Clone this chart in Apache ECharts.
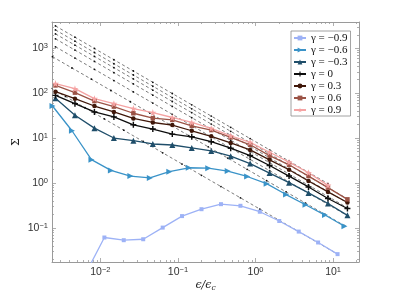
<!DOCTYPE html>
<html><head><meta charset="utf-8">
<script src="https://cdn.jsdelivr.net/npm/echarts@6/dist/echarts.min.js"></script>
<style>html,body{margin:0;padding:0;background:#fff}#c{width:397px;height:297px}</style>
</head><body><div id="c"></div>
<script>
// ---- data ----
const gammaNames = ['γ = −0.9','γ = −0.6','γ = −0.3','γ = 0','γ = 0.3','γ = 0.6','γ = 0.9'];
const xMain  = [0.002636,0.004699,0.008375,0.01493,0.02661,0.04743,0.08454,0.1507,0.2686,0.4788,0.8522,1.519,2.707,4.825,8.60,15.32];
const xNeg06 = [0.002412,0.0043,0.007663,0.01366,0.02435,0.0434,0.07735,0.1379,0.2458,0.4381,0.7798,1.390,2.477,4.415,7.869,14.02];
const xNeg09 = [0.006318,0.01126,0.02001,0.03565,0.06355,0.1129,0.2012,0.3587,0.6391,1.136,2.024,3.608,6.412,11.43];
const xNeg09Fit = [0.001989,0.003544,0.006318,0.01126,0.02001,0.03565,0.06355,0.1129,0.2012,0.3587,0.6391,1.136,2.024,3.608,6.412,11.43];

const sNeg09 = [0.009,0.0614,0.0535,0.0562,0.102,0.184,0.262,0.339,0.312,0.230,0.143,0.0832,0.0476,0.0262];
const sNeg06 = [51.9,14.6,3.32,1.91,1.43,1.30,1.79,2.19,2.15,1.85,1.40,0.97,0.555,0.329,0.194,0.109];
const sNeg03 = [76.8,32.4,16.7,10.05,8.76,7.41,7.04,6.04,5.19,3.96,2.71,1.67,1.02,0.604,0.351,0.191];
const s0     = [89.4,58.6,38.3,29.7,19.8,15.9,12.3,10.7,8.33,5.96,4.09,2.46,1.43,0.820,0.453,0.272];
const s03    = [108,75.6,51.9,38.3,27.4,22.3,19.5,14.6,11.0,7.80,5.46,3.29,1.98,1.11,0.636,0.369];
const s06    = [149,103,66.9,50.4,35.8,27.8,25.5,18.8,15.1,10.4,7.11,4.09,2.55,1.43,0.791,0.434];
const s09    = [164,126,75.6,58.6,45.5,37.1,28.8,22.3,16.4,11.3,8.07,4.86,2.92,1.70,0.889];

const fitNeg09 = [150.7,84.6,47.5,26.7,15.0,8.41,4.72,2.65,1.49,0.836,0.469,0.264,0.148,0.0831,0.0467,0.0262];
const fitNeg06 = [649,364,205,115,64.5,36.2,20.3,11.4,6.41,3.60,2.02,1.13,0.637,0.358,0.201,0.113];
const fitNeg03 = [1079,606,340,191,107,60.2,33.8,19.0,10.7,5.98,3.36,1.89,1.06,0.595,0.334,0.188];
const fit0     = [1622,911,511,287,161,90.5,50.8,28.5,16.0,9.00,5.05,2.84,1.59,0.894,0.502,0.282];
const fit03    = [2089,1173,659,370,208,117,65.4,36.8,20.6,11.6,6.51,3.65,2.05,1.15,0.647,0.363];
const fit06    = [2558,1436,806,453,254,143,80.1,45.0,25.3,14.2,7.97,4.47,2.51,1.41,0.792,0.445];
const fit09    = [3140,1763,990,556,312,175,98.4,55.2,31.0,17.4,9.78,5.49,3.08,1.73,0.972];

const xTickValues = [0.01,0.1,1,10];
const xTickExps   = ['−2','−1','0','1'];
const yTickValues = [0.1,1,10,100,1000];
const yTickExps   = ['−1','0','1','2','3'];

// ---- styling ----
const colors = ['#9db2f6','#3a93c8','#1f4e6a','#0d0d0d','#3f1709','#9b5346','#f5a3a3'];
const STAR = 'path://M50,0 L61,35 L98,35 L68,57 L79,91 L50,70 L21,91 L32,57 L2,35 L39,35 Z';
const PLUS = 'path://M38,0 H62 V38 H100 V62 H62 V100 H38 V62 H0 V38 H38 Z';
const symbols = ['rect','triangle','triangle',PLUS,'circle','rect',STAR];
const symRot  = [0,-90,0,0,0,0,0];
const symSize = [4,6,6,6,4.5,4.5,7];

const XMIN = 0.002377, XMAX = 21.6, YMIN = 0.0175, YMAX = 3845;

function pairs(xs, ys){ return ys.map((v,i)=>[xs[i], v]); }
function minorTicks(lo, hi){
  const out=[];
  for(let e=-4;e<=4;e++){ for(let m=2;m<=9;m++){ const v=m*Math.pow(10,e); if(v>lo&&v<hi) out.push(+v.toPrecision(3)); } }
  return out;
}
function expLabel(vals, exps){
  return function(v){
    let idx=-1; vals.forEach((t,i)=>{ if(Math.abs(t-v)/t<1e-6) idx=i; });
    return idx<0 ? '' : '{a|10}{b|'+exps[idx]+'}';
  };
}
const rich = {
  a:{fontSize:10.5,fontFamily:'Liberation Sans',color:'#333',lineHeight:13},
  b:{fontSize:7.5,fontFamily:'Liberation Sans',color:'#333',lineHeight:8,verticalAlign:'top'}
};
const axisCol = '#9a9a9a';

function mkAxis(kind, pos, major, withLabels, isX){
  const vals = isX ? xTickValues : yTickValues;
  const exps = isX ? xTickExps : yTickExps;
  return {
    type:'log', logBase:10, position:pos, gridIndex:0,
    min: isX?XMIN:YMIN, max: isX?XMAX:YMAX,
    axisLine:{show: major, lineStyle:{color:axisCol,width:1}},
    splitLine:{show:false},
    axisTick:{show:true, inside:true, length: major?4:2, lineStyle:{color:axisCol,width:0.8},
      customValues: major ? vals : (isX?minorTicks(XMIN,XMAX):minorTicks(YMIN,YMAX))},
    axisLabel: withLabels ? {show:true, margin:4, customValues: vals, formatter: expLabel(vals,exps), rich: rich} : {show:false},
    silent:true
  };
}

const xAxes = [
  Object.assign(mkAxis('x','bottom',true,true,true), {
    name:'{i|ϵ/ϵ}{s|c}', nameLocation:'middle', nameGap:17, nameMoveOverlap:false,
    nameTextStyle:{rich:{
      i:{fontSize:11,fontFamily:'DejaVu Serif',fontStyle:'italic',color:'#222',lineHeight:13},
      s:{fontSize:7.5,fontFamily:'DejaVu Serif',fontStyle:'italic',color:'#222',lineHeight:8,verticalAlign:'bottom'}}}
  }),
  mkAxis('x','bottom',false,false,true),
  mkAxis('x','top',true,false,true),
  mkAxis('x','top',false,false,true)
];
const yAxes = [
  Object.assign(mkAxis('y','left',true,true,false), {
    name:'Σ', nameLocation:'middle', nameGap:30, nameRotate:90, nameMoveOverlap:false,
    nameTextStyle:{fontSize:11,fontFamily:'DejaVu Serif',color:'#222'}
  }),
  mkAxis('y','left',false,false,false),
  mkAxis('y','right',true,false,false),
  mkAxis('y','right',false,false,false)
];

const curveX = [xNeg09,xNeg06,xMain,xMain,xMain,xMain,xMain];
const curveY = [sNeg09,sNeg06,sNeg03,s0,s03,s06,s09];
const fitX = [xNeg09Fit,xNeg06,xMain,xMain,xMain,xMain,xMain];
const fitY = [fitNeg09,fitNeg06,fitNeg03,fit0,fit03,fit06,fit09];

const series = [];
fitY.forEach((fy,i)=>{
  series.push({
    type:'line', name:'fit'+i, data:pairs(fitX[i],fy), xAxisIndex:0, yAxisIndex:0,
    symbol:'circle', symbolSize:1.8, showSymbol:true, silent:true, z:1,
    lineStyle:{color:'#222',width:0.6,type:[3,2.5]}, itemStyle:{color:'#111'},
    animation:false, clip:true
  });
});
curveY.forEach((cy,i)=>{
  series.push({
    type:'line', name:gammaNames[i], data:pairs(curveX[i],cy), xAxisIndex:0, yAxisIndex:0,
    symbol:symbols[i], symbolSize:symSize[i], symbolRotate:symRot[i], showSymbol:true, z:3,
    lineStyle:{color:colors[i],width:1.3}, itemStyle:{color:colors[i]},
    animation:false, clip:true
  });
});

const chart = echarts.init(document.getElementById('c'), null, {renderer:'canvas'});
chart.setOption({
  animation:false,
  backgroundColor:'#fff',
  grid:{left:52,right:38,top:22,bottom:33,containLabel:false},
  xAxis:xAxes, yAxis:yAxes,
  legend:{
    data:gammaNames, orient:'vertical', left:291, top:31,
    itemWidth:12, itemHeight:6, itemGap:0,
    padding:[1,3,0,2],
    backgroundColor:'#fff', borderColor:'#8c8c8c', borderWidth:0.8,
    textStyle:{fontFamily:'Liberation Serif',fontSize:11,color:'#111',lineHeight:12}
  },
  series:series
});
</script></body></html>
